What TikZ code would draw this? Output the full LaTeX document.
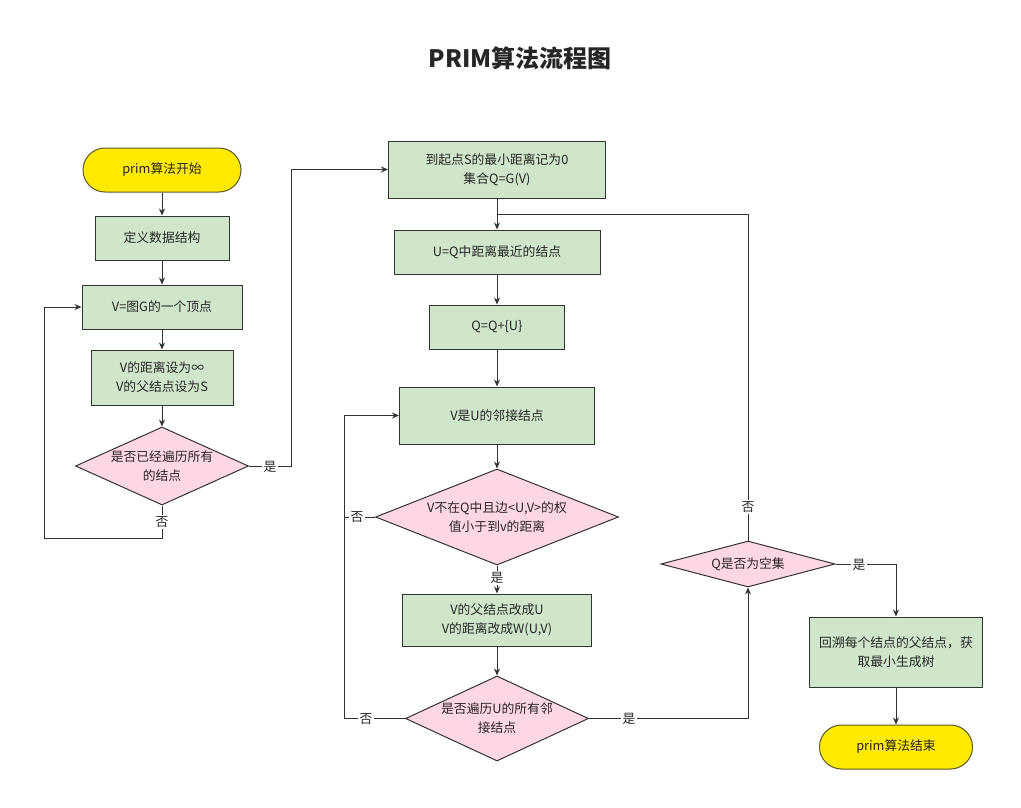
\documentclass[tikz,border=0pt]{standalone}
\usepackage{fontspec}
\setmainfont{Noto Sans CJK SC}
\usetikzlibrary{shapes.geometric,arrows.meta}
\definecolor{boxgreen}{HTML}{D0E6CA}
\definecolor{boxpink}{HTML}{FFD6E4}
\definecolor{termyellow}{HTML}{FFEA00}
\definecolor{edgegray}{HTML}{333333}
\tikzset{
  every node/.style={font=\fontsize{12.8}{19}\selectfont, text=black!85},
  procbox/.style={draw=edgegray, line width=1pt, fill=boxgreen, align=center, inner sep=0pt},
  termbox/.style={draw=edgegray!80!termyellow, line width=1pt, fill=termyellow, rounded corners=22pt, align=center, inner sep=0pt},
  decbox/.style={draw=edgegray, line width=1pt, fill=boxpink, diamond, inner sep=0pt},
  dectext/.style={align=center, inner sep=0pt},
  conn/.style={draw=edgegray, line width=1pt},
  arr/.style={conn, -{Stealth[length=7pt,width=6pt]}},
  lbl/.style={fill=white, inner sep=1.5pt}
}
\begin{document}
\begin{tikzpicture}[x=1pt,y=-1pt]
\useasboundingbox (0,0) rectangle (1021,808);
\node[font=\fontsize{24}{28}\selectfont\bfseries] (title) at (520,58) {PRIM算法流程图};
% left column
\node[termbox, minimum width=158pt, minimum height=44pt] (start) at (162,170) {prim算法开始};
\node[procbox, minimum width=134pt, minimum height=44pt] (b1) at (162,238) {定义数据结构};
\node[procbox, minimum width=160pt, minimum height=44pt] (b2) at (162,307) {V=图G的一个顶点};
\node[procbox, minimum width=142pt, minimum height=55pt] (b3) at (162,377.5) {V的距离设为∞\\V的父结点设为S};
\node[decbox, minimum width=173pt, minimum height=78pt] (d1) at (162,466) {};
\node[dectext] (d1t) at (d1) {是否已经遍历所有\\的结点};
% middle column
\node[procbox, minimum width=217pt, minimum height=57pt] (b4) at (497,169.5) {到起点S的最小距离记为0\\集合Q=G(V)};
\node[procbox, minimum width=206pt, minimum height=44pt] (b5) at (497,252) {U=Q中距离最近的结点};
\node[procbox, minimum width=135pt, minimum height=44pt] (b6) at (497,327) {Q=Q+\{U\}};
\node[procbox, minimum width=195pt, minimum height=57pt] (b7) at (497,415.5) {V是U的邻接结点};
\node[decbox, minimum width=243pt, minimum height=96pt] (d2) at (497,517) {};
\node[dectext] (d2t) at (d2) {V不在Q中且边<U,V>的权\\值小于到v的距离};
\node[procbox, minimum width=189pt, minimum height=52pt] (b8) at (497,620) {V的父结点改成U\\V的距离改成W(U,V)};
\node[decbox, minimum width=183pt, minimum height=85pt] (d3) at (497,718.5) {};
\node[dectext] (d3t) at (d3) {是否遍历U的所有邻\\接结点};
% right column
\node[decbox, minimum width=174pt, minimum height=46pt] (d4) at (748,564) {};
\node[dectext] (d4t) at (d4) {Q是否为空集};
\node[procbox, minimum width=173pt, minimum height=70pt] (b9) at (896,652) {回溯每个结点的父结点，获\\取最小生成树};
\node[termbox, minimum width=153pt, minimum height=44pt] (end) at (896,747) {prim算法结束};
% helper coordinates
\coordinate (c1) at (44,538);
\coordinate (c2) at (291,466);
\coordinate (c3) at (344,718.5);
\coordinate (c3b) at (344,517);
\coordinate (c5) at (497,214);
% connectors
\draw[arr] (start) -- (b1);
\draw[arr] (b1) -- (b2);
\draw[arr] (b2) -- (b3);
\draw[arr] (b3) -- (d1.north);
\draw[arr] (d1.south) |- (c1) |- (b2.west);
\node[lbl] (l1) at (162,522) {否};
\draw[arr] (d1.east) -- (c2) |- (b4.west);
\node[lbl] (l2) at (270,467) {是};
\draw[arr] (b4) -- (b5);
\draw[arr] (b5) -- (b6);
\draw[arr] (b6) -- (b7);
\draw[arr] (b7) -- (d2.north);
\draw[arr] (d2.south) -- (b8);
\node[lbl] (l3) at (497,578) {是};
\draw[arr] (b8) -- (d3.north);
\draw[conn] (d2.west) -- (c3b);
\node[lbl] (l4) at (357,517) {否};
\draw[arr] (d3.west) -- (c3) |- (b7.west);
\node[lbl] (l5) at (366,718.5) {否};
\draw[arr] (d3.east) -| (d4.south);
\node[lbl] (l6) at (629,718.5) {是};
\draw[conn] (d4.north) |- (c5);
\node[lbl] (l7) at (748,507) {否};
\draw[arr] (d4.east) -| (b9.north);
\node[lbl] (l8) at (859,565) {是};
\draw[arr] (b9) -- (end);
\end{tikzpicture}
\end{document}
